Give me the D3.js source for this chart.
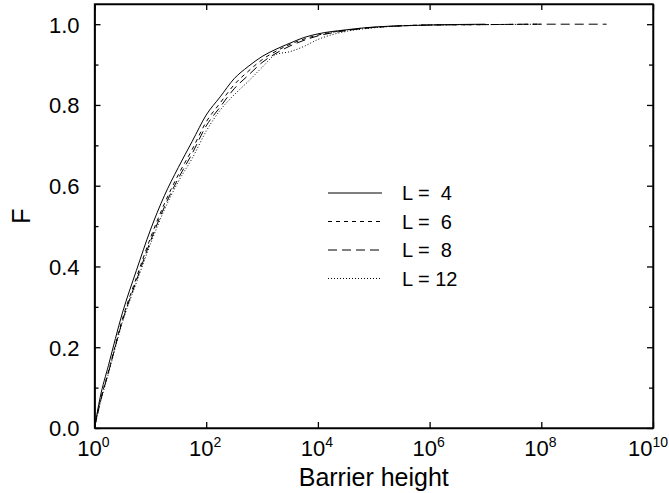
<!DOCTYPE html>
<html>
<head>
<meta charset="utf-8">
<title>F vs barrier height</title>
<script src="https://cdn.jsdelivr.net/npm/d3@7"></script>
<style>
body { margin: 0; background: #fff; }
svg text { font-family: "Liberation Sans", Arial, Helvetica, sans-serif; fill: #000; }
.curve { fill: none; stroke: #000; stroke-width: 1; }
.axis path, .axis line { stroke: #000; stroke-width: 1.3; }
</style>
</head>
<body>
<script>

// barrier height grid, as powers of ten
var barrierExp = [0, 0.1, 0.25, 0.5, 0.75, 1, 1.25, 1.5, 1.75, 2, 2.25, 2.5, 2.75,
                  3, 3.25, 3.5, 3.75, 4, 4.5, 5, 5.5, 6, 7, 8, 9.17];

// F values for each system size
var fL4  = [0, 0.075, 0.155, 0.285, 0.39, 0.49, 0.575, 0.645, 0.71, 0.775, 0.82, 0.865, 0.895,
            0.92, 0.938, 0.953, 0.967, 0.976, 0.986, 0.993, 0.996, 0.998, 1.0];
var fL6  = [0, 0.065, 0.14, 0.27, 0.372, 0.47, 0.555, 0.627, 0.69, 0.758, 0.805, 0.85, 0.883,
            0.912, 0.933, 0.95, 0.963, 0.973, 0.985, 0.992, 0.996, 0.998, 0.999, 1.0];
var fL8  = [0, 0.062, 0.138, 0.265, 0.365, 0.462, 0.547, 0.618, 0.68, 0.748, 0.795, 0.84, 0.873,
            0.905, 0.928, 0.946, 0.96, 0.971, 0.984, 0.992, 0.996, 0.998, 0.999, 1.0, 1.0];
var fL12 = [0, 0.06, 0.135, 0.262, 0.36, 0.455, 0.54, 0.61, 0.668, 0.735, 0.787, 0.825, 0.858,
            0.893, 0.925, 0.932, 0.945, 0.962, 0.982, 0.991, 0.996, 0.998, 0.999, 1.0];

var seriesNames = ["L =  4", "L =  6", "L =  8", "L = 12"];
var seriesDash  = [null, "4,4", "9,5", "1,2"];

var yTicks = [0, 0.2, 0.4, 0.6, 0.8, 1.0];
var yMinor = [0.1, 0.3, 0.5, 0.7, 0.9];
var xTickExp = [0, 2, 4, 6, 8, 10];

var W = 669, H = 493;
var margin = { top: 4, right: 16, bottom: 65, left: 94.5 };
var width = W - margin.left - margin.right;
var height = H - margin.top - margin.bottom;

var svg = d3.select("body").append("svg")
    .attr("width", W)
    .attr("height", H);

var g = svg.append("g")
    .attr("transform", "translate(" + margin.left + "," + margin.top + ")");

var x = d3.scaleLog().domain([1, 1e10]).range([0, width]);
var y = d3.scaleLinear().domain([0, 1.05]).range([height, 0]);

// ticks on all four sides, pointing inward
g.append("g").attr("class", "axis")
    .call(d3.axisLeft(y).tickValues(yTicks).tickSize(-6).tickSizeOuter(0)
        .tickPadding(15).tickFormat(d3.format(".1f")))
    .selectAll("text").attr("font-size", 22).attr("dy", "0.36em");

g.append("g").attr("class", "axis")
    .call(d3.axisLeft(y).tickValues(yMinor).tickSize(-4).tickSizeOuter(0).tickFormat(""));

g.append("g").attr("class", "axis")
    .attr("transform", "translate(" + width + ",0)")
    .call(d3.axisRight(y).tickValues(yTicks).tickSize(-6).tickSizeOuter(0).tickFormat(""));

g.append("g").attr("class", "axis")
    .attr("transform", "translate(" + width + ",0)")
    .call(d3.axisRight(y).tickValues(yMinor).tickSize(-4).tickSizeOuter(0).tickFormat(""));

var xTicks = xTickExp.map(function(e) { return Math.pow(10, e); });

g.append("g").attr("class", "axis")
    .attr("transform", "translate(0," + height + ")")
    .call(d3.axisBottom(x).tickValues(xTicks).tickSize(-6).tickSizeOuter(0).tickFormat(""));

g.append("g").attr("class", "axis")
    .call(d3.axisTop(x).tickValues(xTicks).tickSize(-6).tickSizeOuter(0).tickFormat(""));

// frame
g.append("rect")
    .attr("width", width).attr("height", height)
    .attr("fill", "none").attr("stroke", "#000").attr("stroke-width", 1.3);

// x tick labels 10^n (the last one is pulled in so it stays on the page)
var lastExp = xTickExp[xTickExp.length - 1];
var xl = g.selectAll(".xlab").data(xTickExp).enter().append("text")
    .attr("class", "xlab")
    .attr("x", function(d) {
        return d === lastExp ? W - 1 - margin.left : x(Math.pow(10, d)) - 1;
    })
    .attr("y", height + 28)
    .attr("text-anchor", function(d) { return d === lastExp ? "end" : "middle"; })
    .attr("font-size", 22);
xl.append("tspan").text("10");
xl.append("tspan").attr("font-size", 14).attr("dy", -9)
    .text(function(d) { return d; });

// axis titles
g.append("text")
    .attr("x", width / 2).attr("y", height + 58)
    .attr("text-anchor", "middle")
    .attr("font-size", 25)
    .text("Barrier height");

g.append("text")
    .attr("transform", "translate(" + (30 - margin.left) + "," + (height / 2) + ") rotate(-90)")
    .attr("text-anchor", "middle")
    .attr("font-size", 25)
    .text("F");

// curves
var allF = [fL4, fL6, fL8, fL12];
var line = d3.line()
    .x(function(d) { return x(Math.pow(10, d[0])); })
    .y(function(d) { return y(d[1]); })
    .curve(d3.curveMonotoneX);

allF.forEach(function(f, i) {
    var pts = f.map(function(v, j) { return [barrierExp[j], v]; });
    g.append("path")
        .datum(pts)
        .attr("class", "curve")
        .attr("stroke-dasharray", seriesDash[i])
        .attr("d", line);
});

// legend
var leg = svg.append("g").attr("transform", "translate(328,193)");
seriesNames.forEach(function(name, i) {
    var row = leg.append("g").attr("transform", "translate(0," + (i * 28.5) + ")");
    row.append("line")
        .attr("class", "curve")
        .attr("x1", 0).attr("x2", 54)
        .attr("stroke-dasharray", seriesDash[i]);
    row.append("text")
        .attr("x", 74).attr("y", 7)
        .attr("font-size", 20)
        .attr("xml:space", "preserve")
        .style("white-space", "pre")
        .text(name);
});

</script>
</body>
</html>
